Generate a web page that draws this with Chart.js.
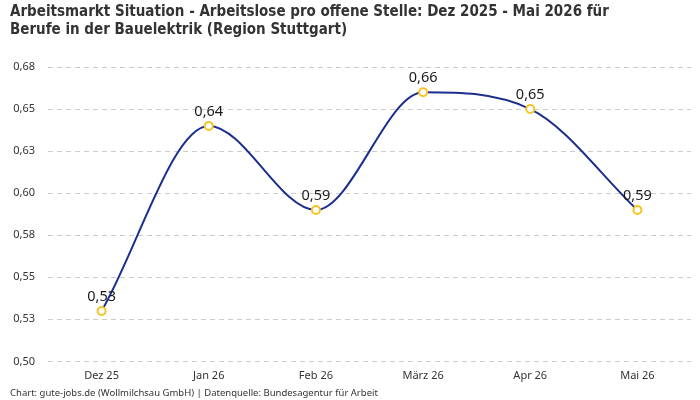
<!DOCTYPE html>
<html>
<head>
<meta charset="utf-8">
<script src="https://cdn.jsdelivr.net/npm/chart.js@4.4.1/dist/chart.umd.min.js"></script>
<style>
  html, body { margin: 0; padding: 0; background: #fff; }
  #wrap { width: 700px; height: 400px; }
</style>
</head>
<body>
<div id="wrap"><canvas id="chartArbeitsmarkt"></canvas></div>
<script>
// Werte
const monate = ['Dez 25', 'Jan 26', 'Feb 26', 'März 26', 'Apr 26', 'Mai 26'];
const arbeitsloseProStelle = [0.53, 0.64, 0.59, 0.66, 0.65, 0.59];
const titelZeilen = [
  'Arbeitsmarkt Situation - Arbeitslose pro offene Stelle: Dez 2025 - Mai 2026 für',
  'Berufe in der Bauelektrik (Region Stuttgart)'
];
const quelle = 'Chart: gute-jobs.de (Wollmilchsau GmbH) | Datenquelle: Bundesagentur für Arbeit';

const fmt = v => Number(v).toLocaleString('de-DE', { minimumFractionDigits: 2, maximumFractionDigits: 2 });

// Werte über die Punkte schreiben
const wertLabels = {
  id: 'wertLabels',
  afterDatasetsDraw(chart) {
    const ctx = chart.ctx;
    const meta = chart.getDatasetMeta(0);
    ctx.save();
    ctx.font = '14.5px "Noto Sans", sans-serif';
    ctx.fillStyle = '#1a1a1a';
    ctx.textAlign = 'center';
    ctx.textBaseline = 'bottom';
    meta.data.forEach((pt, i) => {
      ctx.fillText(fmt(arbeitsloseProStelle[i]), pt.x, pt.y - 7);
    });
    ctx.restore();
  }
};

new Chart(document.getElementById('chartArbeitsmarkt'), {
  type: 'line',
  data: {
    labels: monate,
    datasets: [{
      data: arbeitsloseProStelle,
      borderColor: '#1c2f8e',
      borderWidth: 2,
      cubicInterpolationMode: 'monotone',
      pointRadius: 4,
      pointBorderWidth: 2,
      pointBackgroundColor: '#ffffff',
      pointBorderColor: '#f7c325',
      fill: false
    }]
  },
  options: {
    responsive: true,
    maintainAspectRatio: false,
    animation: false,
    layout: { padding: { left: 10, right: 9, top: 0, bottom: 0 } },
    plugins: {
      legend: { display: false },
      tooltip: { enabled: false },
      title: {
        display: true,
        text: titelZeilen,
        align: 'start',
        color: '#333333',
        font: { family: '"DejaVu Sans Condensed", sans-serif', size: 15, weight: 'bold', lineHeight: 1.2 },
        padding: { top: 3, bottom: 28 }
      },
      subtitle: {
        display: true,
        position: 'bottom',
        text: quelle,
        align: 'start',
        color: '#333333',
        font: { family: '"Noto Sans", sans-serif', size: 9.5 },
        padding: { top: 5, bottom: 1 }
      }
    },
    scales: {
      x: {
        offset: true,
        grid: { display: false },
        border: { display: false },
        ticks: { color: '#333', font: { family: '"Noto Sans", sans-serif', size: 11 }, padding: 0 }
      },
      y: {
        min: 0.5,
        max: 0.675,
        afterFit: s => { s.width = 38; },
        border: { display: false, dash: [5, 4] },
        grid: { color: '#cccccc', drawTicks: false },
        ticks: {
          stepSize: 0.025,
          color: '#333',
          padding: 13,
          font: { family: '"Noto Sans", sans-serif', size: 11 },
          callback: v => fmt(v)
        }
      }
    }
  },
  plugins: [wertLabels]
});
</script>
</body>
</html>
